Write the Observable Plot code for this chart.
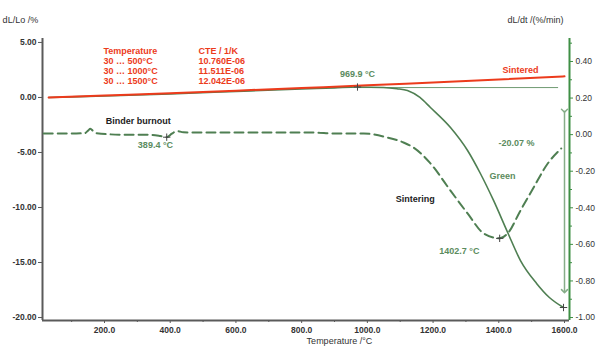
<!DOCTYPE html>
<html>
<head>
<meta charset="utf-8">
<script src="https://cdn.jsdelivr.net/npm/d3@7"></script>
<script src="https://cdn.jsdelivr.net/npm/@observablehq/plot@0.6"></script>
<style>
  html, body { margin: 0; padding: 0; background: #fff; }
  #chart { width: 612px; height: 360px; }
</style>
</head>
<body>
<div id="chart"></div>
<script>
// ---- Data ----
// Sintered sample: dL/Lo (%) vs temperature (°C)
const sinteredT = [30, 200, 400, 600, 800, 1000, 1200, 1400, 1600];
const sinteredL = [0.0, 0.18, 0.39, 0.62, 0.86, 1.10, 1.37, 1.63, 1.92];

// Green sample: dL/Lo (%) vs temperature (°C)
const greenT = [30, 200, 400, 600, 800, 900, 970, 1049, 1090, 1122, 1160, 1192, 1253, 1305, 1344, 1384, 1427, 1466, 1515, 1554, 1597];
const greenL = [0.0, 0.14, 0.33, 0.55, 0.77, 0.87, 0.95, 0.91, 0.80, 0.64, 0.0, -0.91, -2.73, -4.82, -6.91, -9.36, -12.27, -14.82, -16.9, -18.18, -19.09];

// Green sample: dL/dt (%/min) vs temperature (°C)
const rateT = [15, 60, 100, 140, 150, 157, 165, 175, 250, 330, 370, 389, 405, 420, 440, 480, 600, 836, 900, 989, 1061, 1110, 1141, 1190, 1253, 1305, 1354, 1403, 1427, 1466, 1506, 1549, 1590];
const rateV = [0.006, 0.006, 0.006, 0.008, 0.022, 0.032, 0.02, 0.008, 0.0, 0.0, -0.008, -0.014, 0.005, 0.02, 0.013, 0.011, 0.011, 0.011, 0.006, 0.006, -0.016, -0.043, -0.071, -0.153, -0.306, -0.431, -0.54, -0.567, -0.54, -0.415, -0.289, -0.158, -0.076];

// CTE table
const cteHeader = ["Temperature", "CTE / 1/K"];
const cteRanges = ["30 … 500°C", "30 … 1000°C", "30 … 1500°C"];
const cteValues = ["10.760E-06", "11.511E-06", "12.042E-06"];

// Axis ticks
const xTicks = [200, 400, 600, 800, 1000, 1200, 1400, 1600];
const xMinorTicks = [100, 300, 500, 700, 900, 1100, 1300, 1500];
const leftTicks = [5, 0, -5, -10, -15, -20];
const rightTicks = [0.4, 0.2, 0.0, -0.2, -0.4, -0.6, -0.8, -1.0];
const rightMinorTicks = [0.5, 0.3, 0.1, -0.1, -0.3, -0.5, -0.7, -0.9];

// Marked events
const peakT = 969.9, peakL = 0.95;
const burnT = 389.4, burnV = -0.014;
const minT = 1402.7, minV = -0.567;
const endT = 1597, endL = -19.09;
const shrinkArrowL = [-1.2, -17.6];
const refLineT = [970, 1582], refLineL = 0.9;

// ---- Layout helpers ----
const xDomain = [11.3, 1615.2];
const yDomain = [-20.27, 5.36];
// right axis (dL/dt) mapped onto left (dL/Lo) scale
const rA = 16.623, rB = -3.377;
const toLeft = r => rA * r + rB;
const fromLeft = l => (l - rB) / rA;

const sintered = sinteredT.map((t, i) => ({t, v: sinteredL[i]}));
const green = greenT.map((t, i) => ({t, v: greenL[i]}));
const rate = rateT.map((t, i) => ({t, v: toLeft(rateV[i])}));

const RED = "#ec3b1c";
const GREEN = "#4f7f52";
const TGREEN = "#5b8c5e";
const LGREEN = "#86ad88";
const AXIS = "#5a5a5a";
const FONT = "Liberation Sans, Arial, sans-serif";

// annotations (text, T, L)
const redNotes = [
  {s: cteHeader[0], t: 197, l: 4.18},
  {s: cteHeader[1], t: 486, l: 4.18},
  ...cteRanges.map((s, i) => ({s, t: 197, l: 3.27 - 0.91 * i})),
  ...cteValues.map((s, i) => ({s, t: 486, l: 3.27 - 0.91 * i})),
  {s: "Sintered", t: 1411, l: 2.45}
];
const greenNotes = [
  {s: peakT.toFixed(1) + " °C", t: 970, l: 2.09, a: "middle"},
  {s: burnT.toFixed(1) + " °C", t: 355, l: -4.36, a: "start"},
  {s: minT.toFixed(1) + " °C", t: 1280, l: -14.0, a: "start"},
  {s: "Green", t: 1411, l: -7.18, a: "start"},
  {s: "-20.07 %", t: 1454, l: -4.18, a: "start"}
];
const blackNotes = [
  {s: "Binder burnout", t: 303, l: -2.18, a: "middle"},
  {s: "Sintering", t: 1146, l: -9.27, a: "start"}
];
const axisTitles = [
  {s: "dL/Lo /%", t: -56, l: 7.0, a: "start"},
  {s: "dL/dt /(%/min)", t: 1512, l: 7.0, a: "start"},
  {s: "Temperature /°C", t: 915, l: -22.1, a: "middle"}
];

const chart = Plot.plot({
  width: 612,
  height: 360,
  marginLeft: 42,
  marginRight: 43,
  marginTop: 38,
  marginBottom: 40,
  style: {fontFamily: FONT, fontSize: "9px", background: "#fff", overflow: "visible"},
  x: {domain: xDomain, axis: null},
  y: {domain: yDomain, axis: null},
  marks: [
    // axes lines
    Plot.ruleX([xDomain[0]], {stroke: AXIS, strokeWidth: 2}),
    Plot.ruleY([yDomain[0]], {stroke: AXIS, strokeWidth: 2}),
    Plot.ruleX([xDomain[1]], {stroke: "#3f8f45", strokeWidth: 2}),
    // bottom axis
    Plot.axisX(xTicks, {anchor: "bottom", tickSize: 3, tickPadding: 3, tickFormat: d => d.toFixed(1), fontWeight: "bold", fontSize: 8.5, fill: "#333", stroke: AXIS, label: null}),
    Plot.axisX(xMinorTicks, {anchor: "bottom", tickSize: 2, tickFormat: () => "", stroke: AXIS, label: null}),
    // left axis
    Plot.axisY(leftTicks, {anchor: "left", tickSize: 4, tickPadding: 2, tickFormat: d => d.toFixed(2), fontWeight: "bold", fontSize: 8.5, fill: "#333", stroke: AXIS, label: null}),
    // right axis
    Plot.axisY(rightTicks.map(toLeft), {anchor: "right", tickSize: 3, tickPadding: 3, tickFormat: d => { const r = Math.round(fromLeft(d) * 100) / 100; return (r === 0 ? 0 : r).toFixed(2); }, fontSize: 8.5, fill: "#333", stroke: "#3f8f45", label: null}),
    Plot.axisY(rightMinorTicks.map(toLeft), {anchor: "right", tickSize: 2, tickFormat: () => "", stroke: "#3f8f45", label: null}),
    // reference line at peak and shrinkage arrow
    Plot.ruleY([refLineL], {x1: refLineT[0], x2: refLineT[1], stroke: "#6f9a72", strokeWidth: 1}),
    Plot.link([{y1: shrinkArrowL[0], y2: shrinkArrowL[1]}], {x1: 1600, x2: 1600, y1: "y1", y2: "y2", stroke: LGREEN, strokeWidth: 1.5, markerStart: "arrow", markerEnd: "arrow"}),
    // curves
    Plot.line(rate, {x: "t", y: "v", stroke: GREEN, strokeWidth: 2, strokeDasharray: "9,5", curve: "monotone-x"}),
    Plot.line(green, {x: "t", y: "v", stroke: GREEN, strokeWidth: 1.6, curve: "monotone-x"}),
    Plot.line(sintered, {x: "t", y: "v", stroke: RED, strokeWidth: 2, curve: "monotone-x"}),
    // event markers
    Plot.dot([{t: peakT, v: peakL}, {t: burnT, v: toLeft(burnV)}, {t: minT, v: toLeft(minV)}, {t: endT, v: endL}], {x: "t", y: "v", symbol: "plus", r: 2.5, stroke: "#444", strokeWidth: 1}),
    // annotations
    Plot.text(redNotes, {x: "t", y: "l", text: "s", textAnchor: "start", fill: RED, fontWeight: "bold", fontSize: 9}),
    Plot.text(greenNotes, {x: "t", y: "l", text: "s", textAnchor: "a", fill: TGREEN, fontWeight: "bold", fontSize: 9}),
    Plot.text(blackNotes, {x: "t", y: "l", text: "s", textAnchor: "a", fill: "#222", fontWeight: "bold", fontSize: 9}),
    Plot.text(axisTitles, {x: "t", y: "l", text: "s", textAnchor: "a", fill: "#333", fontSize: 9})
  ]
});
document.getElementById("chart").appendChild(chart);
</script>
</body>
</html>
